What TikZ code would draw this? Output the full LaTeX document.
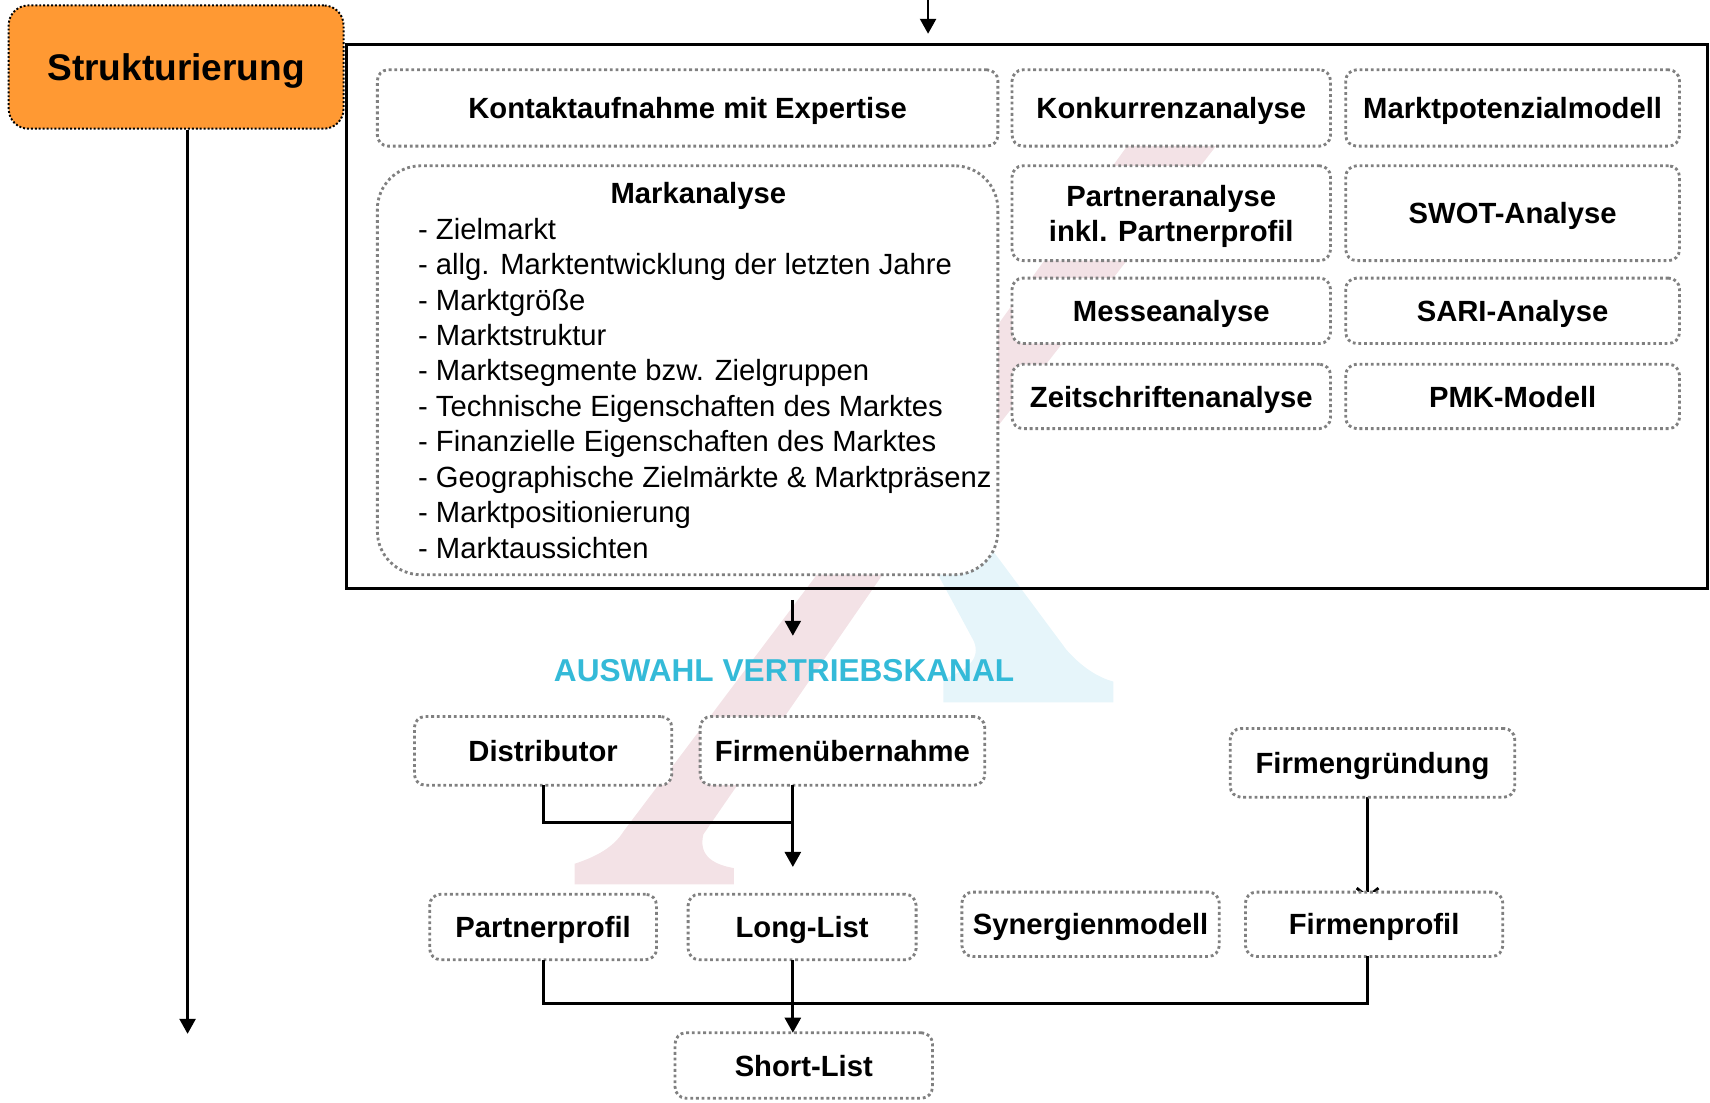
\documentclass[tikz,border=0pt]{standalone}
\usepackage{fontspec}
\setmainfont{Liberation Sans}
\usepackage{tikz}
\usetikzlibrary{arrows.meta, positioning, backgrounds}

\definecolor{strukorange}{RGB}{255,153,51}
\definecolor{boxgray}{RGB}{128,128,128}
\definecolor{kanalblau}{RGB}{52,186,216}
\definecolor{wmrosa}{RGB}{243,226,230}
\definecolor{wmblau}{RGB}{230,245,250}

\newcommand{\kastenfont}{\fontsize{13.4}{16}\selectfont\bfseries}
\newcommand{\listenfont}{\fontsize{13.4}{16.25}\selectfont}

\tikzset{
  kasten/.style={draw=boxgray, line width=1.3pt, dash pattern=on 1.3pt off 1.3pt,
    rounded corners=5pt, fill=white, align=center, inner sep=1pt, outer sep=0pt,
    text depth=0pt, font=\kastenfont},
  strukbox/.style={fill=strukorange, draw=black, line width=0.9pt, dash pattern=on 0.9pt off 0.9pt,
    rounded corners=9pt, text depth=0pt, font=\fontsize{17}{20}\selectfont\bfseries},
  linie/.style={line width=1.3pt},
}

\begin{document}
\begin{tikzpicture}[x=0.5pt, y=-0.5pt, node distance=7pt, >={Triangle[width=7.3pt,length=6.9pt]}]
\useasboundingbox (0,0) rectangle (1568,1011);

% Wasserzeichen
\fill[wmrosa] (1040,125) -- (1122,125) -- (812,523) -- (645,765)
  .. controls (640,785) and (655,793) .. (673,796) -- (673,811) -- (527,811) -- (527,792)
  .. controls (545,786) and (562,778) .. (572,762) -- (752,523) -- cycle;
\fill[wmblau] (824,460) -- (877,460) -- (978,596)
  .. controls (995,615) and (1010,622) .. (1021,625) -- (1021,644) -- (865,644) -- (865,623)
  .. controls (885,615) and (900,605) .. (893,588) -- cycle;

\node[draw, line width=1.3pt, minimum width=624pt, minimum height=249.5pt] (rahmen) at (942,290.5) {};

\node[strukbox, minimum width=153.5pt, minimum height=56.5pt] (struk) at (161.5,61.5) {Strukturierung};

\node[kasten, minimum width=284.5pt, minimum height=35pt] (kontakt) at (630.5,99) {Kontaktaufnahme mit Expertise};
\node[kasten, minimum width=146pt, minimum height=35pt, right=6.5pt of kontakt] (konk) {Konkurrenzanalyse};
\node[kasten, minimum width=153pt, minimum height=35pt, right=7pt of konk] (mpot) {Marktpotenzialmodell};
\node[kasten, minimum width=146pt, minimum height=43.5pt, below=9pt of konk] (partner) {Partneranalyse\\inkl. Partnerprofil};
\node[kasten, minimum width=153pt, minimum height=43.5pt, below=9pt of mpot] (swot) {SWOT-Analyse};
\node[kasten, minimum width=146pt, minimum height=30pt, below=8pt of partner] (messe) {Messeanalyse};
\node[kasten, minimum width=153pt, minimum height=30pt, below=8pt of swot] (sari) {SARI-Analyse};
\node[kasten, minimum width=146pt, minimum height=29.5pt, below=9.5pt of messe] (zeit) {Zeitschriftenanalyse};
\node[kasten, minimum width=153pt, minimum height=29.5pt, below=9.5pt of sari] (pmk) {PMK-Modell};

\node[kasten, rounded corners=20pt, minimum width=284.5pt, minimum height=187.5pt] (markt) at (630.5,339.5) {};
\node[anchor=north west, inner sep=0pt, align=left, font=\listenfont] (markliste) at (383,167)
  {\hspace*{88.25pt}\textbf{Markanalyse}\\
   - Zielmarkt\\
   - allg. Marktentwicklung der letzten Jahre\\
   - Marktgröße\\
   - Marktstruktur\\
   - Marktsegmente bzw. Zielgruppen\\
   - Technische Eigenschaften des Marktes\\
   - Finanzielle Eigenschaften des Marktes\\
   - Geographische Zielmärkte \& Marktpräsenz\\
   - Marktpositionierung\\
   - Marktaussichten};

\node[font=\fontsize{14.5}{17}\selectfont\bfseries, text=kanalblau] (auswahl) at (719,615) {AUSWAHL VERTRIEBSKANAL};

\node[kasten, minimum width=118pt, minimum height=31.5pt] (distri) at (498,688.5) {Distributor};
\node[kasten, minimum width=130.5pt, minimum height=31.5pt, right=13pt of distri] (firmen) {Firmenübernahme};
\node[kasten, minimum width=130.5pt, minimum height=31.5pt] (gruend) at (1258.5,699.5) {Firmengründung};

\node[kasten, minimum width=104pt, minimum height=30pt] (pprofil) at (498,850) {Partnerprofil};
\node[kasten, minimum width=104.5pt, minimum height=30pt, right=14.5pt of pprofil] (longlist) {Long-List};
\node[kasten, minimum width=118pt, minimum height=29.5pt] (syn) at (1000,847.5) {Synergienmodell};
\node[kasten, minimum width=118pt, minimum height=29.5pt, right=12pt of syn] (fprofil) {Firmenprofil};
\node[kasten, minimum width=118pt, minimum height=30pt] (short) at (737,977) {Short-List};

\coordinate (ein1) at (851,0);
\coordinate (ein2) at (851,31);
\coordinate (strukende) at (172,948);
\coordinate (aus1) at (727,550);
\coordinate (aus2) at (727,583);
\coordinate (mitte) at (727,754);
\coordinate (langende) at (727,795);
\coordinate (fx) at (1254,765);
\coordinate (knoten) at (727,920);

\path[->, linie] (ein1) edge (ein2);
\path[->, linie] (struk.south -| strukende) edge (strukende);
\path[->, linie] (aus1) edge (aus2);
\draw[linie] (distri.south) |- (mitte);
\path[->, linie] (firmen.south -| mitte) edge (langende);
\begin{pgfonlayer}{background}
\path[-{Straight Barb[width=10pt,length=4pt]}, linie, shorten >=-3pt] (gruend.south -| fx) edge (fprofil.north -| fx);
\end{pgfonlayer}
\draw[linie] (pprofil.south) |- (knoten) -| (fprofil.south -| fx);
\path[->, linie] (longlist.south -| knoten) edge (short.north -| knoten);
\end{tikzpicture}
\end{document}
